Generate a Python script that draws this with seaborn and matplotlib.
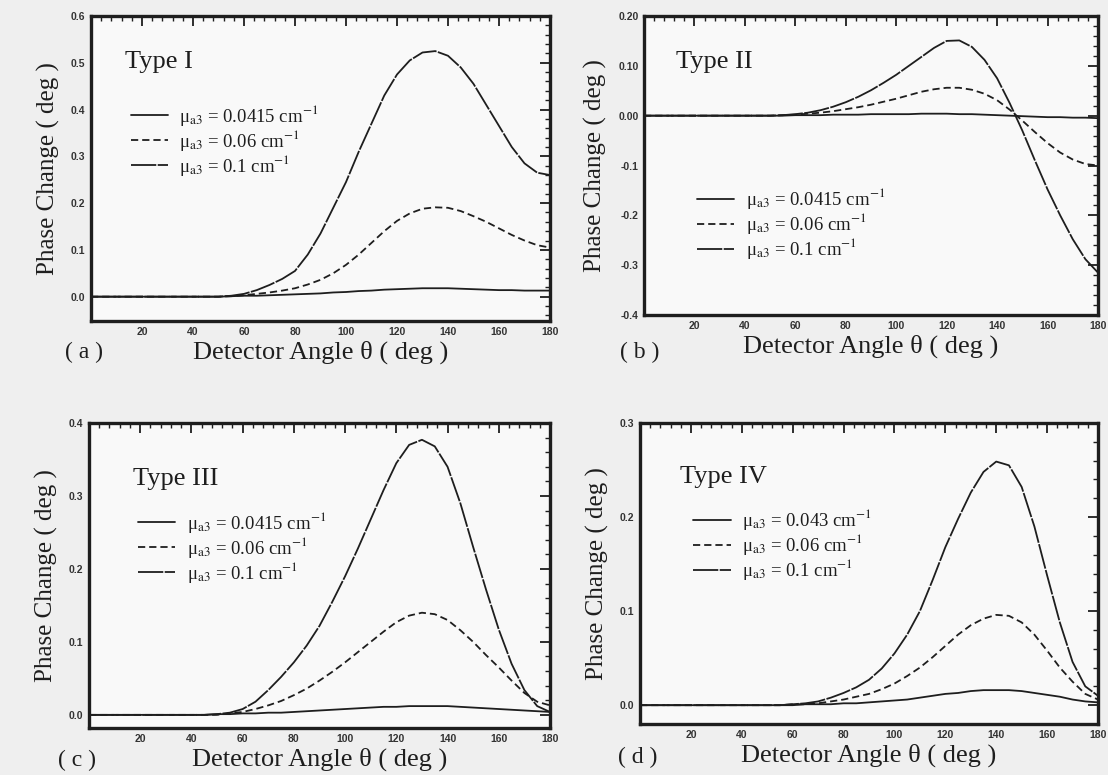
import numpy as np
import pandas as pd
import matplotlib
matplotlib.use("Agg")
import matplotlib.pyplot as plt
from matplotlib.ticker import MultipleLocator, FixedLocator, FixedFormatter
import seaborn as sns

# ---------------- data ----------------
theta = list(range(0, 181, 5))

z10 = [0.0] * 10
z11 = [0.0] * 11
z12 = [0.0] * 12

typeI_small = z11 + [0.001, 0.002, 0.002, 0.003, 0.004, 0.005, 0.006, 0.007, 0.009, 0.010,
                     0.012, 0.013, 0.015, 0.016, 0.017, 0.018, 0.018, 0.018, 0.017, 0.016,
                     0.015, 0.014, 0.014, 0.013, 0.013, 0.013]
typeI_mid = z11 + [0.001, 0.003, 0.006, 0.009, 0.013, 0.018, 0.026, 0.036, 0.050, 0.068,
                   0.090, 0.115, 0.140, 0.162, 0.178, 0.188, 0.191, 0.190, 0.183, 0.172,
                   0.160, 0.146, 0.132, 0.120, 0.110, 0.105]
typeI_big = z11 + [0.002, 0.006, 0.014, 0.025, 0.038, 0.055, 0.090, 0.135, 0.190, 0.245,
                   0.310, 0.370, 0.430, 0.475, 0.505, 0.522, 0.525, 0.515, 0.490, 0.455,
                   0.410, 0.365, 0.320, 0.285, 0.265, 0.260]

typeII_small = z11 + [0.0, 0.001, 0.001, 0.001, 0.002, 0.002, 0.002, 0.003, 0.003, 0.003,
                      0.003, 0.004, 0.004, 0.004, 0.003, 0.003, 0.002, 0.001, 0.0, -0.001,
                      -0.002, -0.003, -0.003, -0.004, -0.004, -0.005]
typeII_mid = z11 + [0.001, 0.002, 0.004, 0.006, 0.009, 0.013, 0.017, 0.022, 0.028, 0.034,
                    0.041, 0.048, 0.053, 0.056, 0.056, 0.052, 0.044, 0.031, 0.012, -0.010,
                    -0.033, -0.055, -0.074, -0.088, -0.097, -0.100]
typeII_big = z11 + [0.001, 0.003, 0.006, 0.011, 0.018, 0.027, 0.038, 0.051, 0.066, 0.082,
                    0.100, 0.118, 0.136, 0.150, 0.151, 0.138, 0.112, 0.075, 0.025, -0.030,
                    -0.090, -0.148, -0.200, -0.248, -0.288, -0.315]

typeIII_small = z10 + [0.001, 0.001, 0.002, 0.002, 0.003, 0.003, 0.004, 0.005, 0.006, 0.007,
                       0.008, 0.009, 0.010, 0.011, 0.011, 0.012, 0.012, 0.012, 0.012, 0.011,
                       0.010, 0.009, 0.008, 0.007, 0.006, 0.005, 0.004]
typeIII_mid = z10 + [0.0, 0.002, 0.004, 0.008, 0.013, 0.019, 0.027, 0.036, 0.047, 0.059,
                     0.072, 0.086, 0.100, 0.114, 0.127, 0.136, 0.140, 0.138, 0.130, 0.116,
                     0.100, 0.082, 0.065, 0.047, 0.030, 0.018, 0.013]
typeIII_big = z10 + [0.001, 0.003, 0.008, 0.018, 0.034, 0.052, 0.072, 0.095, 0.122, 0.155,
                     0.190, 0.228, 0.268, 0.308, 0.345, 0.370, 0.377, 0.368, 0.340, 0.290,
                     0.230, 0.172, 0.117, 0.070, 0.034, 0.012, 0.004]

typeIV_small = z12 + [0.0, 0.001, 0.001, 0.001, 0.002, 0.002, 0.003, 0.004, 0.005, 0.006,
                      0.008, 0.010, 0.012, 0.013, 0.015, 0.016, 0.016, 0.016, 0.015, 0.013,
                      0.011, 0.009, 0.006, 0.004, 0.003]
typeIV_mid = z12 + [0.001, 0.001, 0.002, 0.004, 0.006, 0.009, 0.012, 0.017, 0.023, 0.031,
                    0.040, 0.051, 0.063, 0.075, 0.085, 0.092, 0.096, 0.095, 0.088, 0.075,
                    0.058, 0.040, 0.025, 0.012, 0.006]
typeIV_big = z12 + [0.001, 0.002, 0.004, 0.008, 0.013, 0.019, 0.027, 0.039, 0.055, 0.075,
                    0.100, 0.133, 0.168, 0.198, 0.226, 0.248, 0.259, 0.255, 0.232, 0.190,
                    0.138, 0.088, 0.046, 0.020, 0.010]

labels_std = ["μ$_{\\mathrm{a3}}$ = 0.0415 cm$^{-1}$", "μ$_{\\mathrm{a3}}$ = 0.06 cm$^{-1}$",
              "μ$_{\\mathrm{a3}}$ = 0.1 cm$^{-1}$"]
labels_IV = ["μ$_{\\mathrm{a3}}$ = 0.043 cm$^{-1}$", "μ$_{\\mathrm{a3}}$ = 0.06 cm$^{-1}$",
             "μ$_{\\mathrm{a3}}$ = 0.1 cm$^{-1}$"]

panel_titles = ["Type I", "Type II", "Type III", "Type IV"]
panel_tags = ["( a )", "( b )", "( c )", "( d )"]
xlabel_text = "Detector Angle θ ( deg )"
ylabel_text = "Phase Change ( deg )"

yticks_a = [0.0, 0.1, 0.2, 0.3, 0.4, 0.5, 0.6]
ylabels_a = ["0.0", "0.1", "0.2", "0.3", "0.4", "0.5", "0.6"]
yticks_b = [0.20, 0.10, 0.00, -0.1, -0.2, -0.3, -0.4]
ylabels_b = ["0.20", "0.10", "0.00", "-0.1", "-0.2", "-0.3", "-0.4"]
yticks_c = [0.0, 0.1, 0.2, 0.3, 0.4]
ylabels_c = ["0.0", "0.1", "0.2", "0.3", "0.4"]
yticks_d = [0.0, 0.1, 0.2, 0.3]
ylabels_d = ["0.0", "0.1", "0.2", "0.3"]
xticks = [20, 40, 60, 80, 100, 120, 140, 160, 180]

# ---------------- style ----------------
sns.set_theme(style="white")
plt.rcParams["font.family"] = ["Liberation Serif", "DejaVu Serif"]
plt.rcParams["mathtext.fontset"] = "stix"

ink = "#1e1e1e"
fig = plt.figure(figsize=(11.08, 7.75), dpi=100)
fig.patch.set_facecolor("#efefef")

W, H = 1108, 775
def pos(l, r, t, b):
    return [l / W, 1 - b / H, (r - l) / W, (b - t) / H]

panels = [
    dict(rect=pos(91, 550, 16, 321), series=[typeI_small, typeI_mid, typeI_big], labels=labels_std,
         ylim=(-0.052, 0.6), yt=yticks_a, yl=ylabels_a, yminor=0.02,
         title_xy=(0.075, 0.85), leg_xy=(0.07, 0.74), tag_xy=(65, 352)),
    dict(rect=pos(644, 1098, 16, 315), series=[typeII_small, typeII_mid, typeII_big], labels=labels_std,
         ylim=(-0.4, 0.2), yt=yticks_b, yl=ylabels_b, yminor=0.02,
         title_xy=(0.07, 0.845), leg_xy=(0.1, 0.455), tag_xy=(620, 352)),
    dict(rect=pos(89, 550, 423, 728), series=[typeIII_small, typeIII_mid, typeIII_big], labels=labels_std,
         ylim=(-0.018, 0.4), yt=yticks_c, yl=ylabels_c, yminor=0.02,
         title_xy=(0.095, 0.815), leg_xy=(0.09, 0.74), tag_xy=(58, 760)),
    dict(rect=pos(640, 1098, 423, 724), series=[typeIV_small, typeIV_mid, typeIV_big], labels=labels_IV,
         ylim=(-0.02, 0.3), yt=yticks_d, yl=ylabels_d, yminor=0.02,
         title_xy=(0.088, 0.82), leg_xy=(0.1, 0.745), tag_xy=(618, 757)),
]

styles = ["-", (0, (4, 2.2)), (0, (14, 0.8))]

for i, p in enumerate(panels):
    ax = fig.add_axes(p["rect"])
    ax.set_facecolor("#f9f9f9")
    for vals, lab, ls in zip(p["series"], p["labels"], styles):
        df = pd.DataFrame({"theta": theta, "phase": vals})
        sns.lineplot(data=df, x="theta", y="phase", ax=ax, color=ink, linewidth=1.3,
                     linestyle=ls, label=lab, solid_joinstyle="round", dash_joinstyle="round")
    ax.set_xlim(0, 180)
    ax.set_ylim(*p["ylim"])
    ax.xaxis.set_major_locator(FixedLocator(xticks))
    ax.xaxis.set_minor_locator(MultipleLocator(4))
    ax.yaxis.set_major_locator(FixedLocator(p["yt"]))
    ax.yaxis.set_major_formatter(FixedFormatter(p["yl"]))
    ax.yaxis.set_minor_locator(MultipleLocator(p["yminor"]))
    ax.tick_params(which="both", direction="in", top=True, right=True, colors=ink)
    ax.tick_params(which="major", length=7, width=1.3, labelsize=7.5, pad=4)
    ax.tick_params(which="minor", length=3.5, width=1.0)
    for t in ax.get_xticklabels() + ax.get_yticklabels():
        t.set_family(["Liberation Sans", "DejaVu Sans"])
        t.set_fontweight("bold")
        t.set_color("#333333")
    for s in ax.spines.values():
        s.set_linewidth(2.4)
        s.set_color(ink)
    ax.set_xlabel(xlabel_text, fontsize=19, color=ink, labelpad=3)
    ax.set_ylabel(ylabel_text, fontsize=18, color=ink, labelpad=8)
    ax.text(*p["title_xy"], panel_titles[i], transform=ax.transAxes, fontsize=19,
            color=ink, ha="left", va="center")
    leg = ax.legend(loc="upper left", bbox_to_anchor=p["leg_xy"], frameon=False,
                    fontsize=13.5, labelspacing=0.0, handlelength=2.0, handletextpad=0.6,
                    borderaxespad=0)
    for t in leg.get_texts():
        t.set_color(ink)
    fig.text(p["tag_xy"][0] / W, 1 - p["tag_xy"][1] / H, panel_tags[i], fontsize=17,
             color=ink, ha="left", va="center")

fig.savefig("out.png", dpi=100, facecolor=fig.get_facecolor())
